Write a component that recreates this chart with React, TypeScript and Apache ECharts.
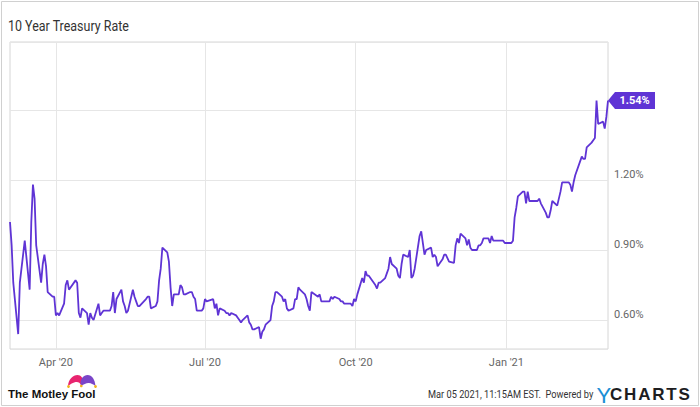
import React, { useEffect, useRef } from 'react';
import * as echarts from 'echarts';

const chartTitle = '10 Year Treasury Rate';

// [date, 10-year treasury rate in %]
const rate10y: [string, number][] = [
  ['2020-03-04', 1.02], ['2020-03-05', 0.92], ['2020-03-06', 0.76], ['2020-03-09', 0.54], ['2020-03-10', 0.76],
  ['2020-03-11', 0.82], ['2020-03-12', 0.88], ['2020-03-13', 0.94], ['2020-03-16', 0.73], ['2020-03-17', 1.02],
  ['2020-03-18', 1.18], ['2020-03-19', 1.12], ['2020-03-20', 0.92], ['2020-03-23', 0.76], ['2020-03-24', 0.84],
  ['2020-03-25', 0.88], ['2020-03-26', 0.83], ['2020-03-27', 0.72], ['2020-03-30', 0.70], ['2020-03-31', 0.70],
  ['2020-04-01', 0.62], ['2020-04-02', 0.63], ['2020-04-03', 0.62], ['2020-04-06', 0.67], ['2020-04-07', 0.75],
  ['2020-04-08', 0.77], ['2020-04-09', 0.73], ['2020-04-13', 0.77], ['2020-04-14', 0.76], ['2020-04-15', 0.63],
  ['2020-04-16', 0.61], ['2020-04-17', 0.65], ['2020-04-20', 0.63], ['2020-04-21', 0.58], ['2020-04-22', 0.63],
  ['2020-04-23', 0.61], ['2020-04-24', 0.60], ['2020-04-27', 0.67], ['2020-04-28', 0.62], ['2020-04-29', 0.63],
  ['2020-04-30', 0.64], ['2020-05-01', 0.64], ['2020-05-04', 0.64], ['2020-05-05', 0.66], ['2020-05-06', 0.72],
  ['2020-05-07', 0.63], ['2020-05-08', 0.69], ['2020-05-11', 0.73], ['2020-05-12', 0.68], ['2020-05-13', 0.66],
  ['2020-05-14', 0.63], ['2020-05-15', 0.64], ['2020-05-18', 0.73], ['2020-05-19', 0.70], ['2020-05-20', 0.68],
  ['2020-05-21', 0.66], ['2020-05-22', 0.66], ['2020-05-26', 0.69], ['2020-05-27', 0.70], ['2020-05-28', 0.70],
  ['2020-05-29', 0.65], ['2020-06-01', 0.66], ['2020-06-02', 0.68], ['2020-06-03', 0.77], ['2020-06-04', 0.82],
  ['2020-06-05', 0.91], ['2020-06-08', 0.89], ['2020-06-09', 0.85], ['2020-06-10', 0.74], ['2020-06-11', 0.66],
  ['2020-06-12', 0.71], ['2020-06-15', 0.71], ['2020-06-16', 0.75], ['2020-06-17', 0.74], ['2020-06-18', 0.71],
  ['2020-06-19', 0.71], ['2020-06-22', 0.72], ['2020-06-23', 0.72], ['2020-06-24', 0.70], ['2020-06-25', 0.69],
  ['2020-06-26', 0.64], ['2020-06-29', 0.64], ['2020-06-30', 0.65], ['2020-07-01', 0.69], ['2020-07-02', 0.68],
  ['2020-07-06', 0.69], ['2020-07-07', 0.65], ['2020-07-08', 0.67], ['2020-07-09', 0.62], ['2020-07-10', 0.65],
  ['2020-07-13', 0.64], ['2020-07-14', 0.63], ['2020-07-15', 0.63], ['2020-07-16', 0.62], ['2020-07-17', 0.63],
  ['2020-07-20', 0.62], ['2020-07-21', 0.61], ['2020-07-22', 0.60], ['2020-07-23', 0.59], ['2020-07-24', 0.60],
  ['2020-07-27', 0.62], ['2020-07-28', 0.59], ['2020-07-29', 0.58], ['2020-07-30', 0.56], ['2020-07-31', 0.56],
  ['2020-08-03', 0.57], ['2020-08-04', 0.52], ['2020-08-05', 0.55], ['2020-08-06', 0.56], ['2020-08-07', 0.58],
  ['2020-08-10', 0.60], ['2020-08-11', 0.66], ['2020-08-12', 0.68], ['2020-08-13', 0.72], ['2020-08-14', 0.72],
  ['2020-08-17', 0.70], ['2020-08-18', 0.68], ['2020-08-19', 0.69], ['2020-08-20', 0.65], ['2020-08-21', 0.64],
  ['2020-08-24', 0.65], ['2020-08-25', 0.69], ['2020-08-26', 0.69], ['2020-08-27', 0.74], ['2020-08-28', 0.73],
  ['2020-08-31', 0.71], ['2020-09-01', 0.69], ['2020-09-02', 0.66], ['2020-09-03', 0.64], ['2020-09-04', 0.72],
  ['2020-09-08', 0.70], ['2020-09-09', 0.71], ['2020-09-10', 0.68], ['2020-09-11', 0.68], ['2020-09-14', 0.68],
  ['2020-09-15', 0.68], ['2020-09-16', 0.70], ['2020-09-17', 0.69], ['2020-09-18', 0.70], ['2020-09-21', 0.69],
  ['2020-09-22', 0.68], ['2020-09-23', 0.68], ['2020-09-24', 0.67], ['2020-09-25', 0.67], ['2020-09-28', 0.67],
  ['2020-09-29', 0.66], ['2020-09-30', 0.69], ['2020-10-01', 0.68], ['2020-10-02', 0.71], ['2020-10-05', 0.78],
  ['2020-10-06', 0.76], ['2020-10-07', 0.81], ['2020-10-08', 0.79], ['2020-10-09', 0.79], ['2020-10-13', 0.75],
  ['2020-10-14', 0.735], ['2020-10-15', 0.76], ['2020-10-16', 0.76], ['2020-10-19', 0.78], ['2020-10-20', 0.80],
  ['2020-10-21', 0.82], ['2020-10-22', 0.87], ['2020-10-23', 0.84], ['2020-10-26', 0.82], ['2020-10-27', 0.79],
  ['2020-10-28', 0.78], ['2020-10-29', 0.84], ['2020-10-30', 0.88], ['2020-11-02', 0.87], ['2020-11-03', 0.90],
  ['2020-11-04', 0.78], ['2020-11-05', 0.79], ['2020-11-06', 0.82], ['2020-11-09', 0.96], ['2020-11-10', 0.98],
  ['2020-11-12', 0.88], ['2020-11-13', 0.90], ['2020-11-16', 0.91], ['2020-11-17', 0.87], ['2020-11-18', 0.88],
  ['2020-11-19', 0.87], ['2020-11-20', 0.83], ['2020-11-23', 0.86], ['2020-11-24', 0.88], ['2020-11-25', 0.88],
  ['2020-11-27', 0.85], ['2020-11-30', 0.845], ['2020-12-01', 0.92], ['2020-12-02', 0.95], ['2020-12-03', 0.93],
  ['2020-12-04', 0.97], ['2020-12-07', 0.95], ['2020-12-08', 0.92], ['2020-12-09', 0.945], ['2020-12-10', 0.91],
  ['2020-12-11', 0.90], ['2020-12-14', 0.90], ['2020-12-15', 0.92], ['2020-12-16', 0.92], ['2020-12-17', 0.93],
  ['2020-12-18', 0.95], ['2020-12-21', 0.95], ['2020-12-22', 0.93], ['2020-12-23', 0.96], ['2020-12-24', 0.94],
  ['2020-12-28', 0.94], ['2020-12-29', 0.94], ['2020-12-30', 0.94], ['2020-12-31', 0.93], ['2021-01-04', 0.93],
  ['2021-01-05', 0.94], ['2021-01-06', 1.04], ['2021-01-07', 1.08], ['2021-01-08', 1.13], ['2021-01-11', 1.15],
  ['2021-01-12', 1.15], ['2021-01-13', 1.10], ['2021-01-14', 1.15], ['2021-01-15', 1.11], ['2021-01-19', 1.11],
  ['2021-01-20', 1.11], ['2021-01-21', 1.12], ['2021-01-22', 1.10], ['2021-01-25', 1.06], ['2021-01-26', 1.04],
  ['2021-01-27', 1.04], ['2021-01-28', 1.07], ['2021-01-29', 1.11], ['2021-02-01', 1.09], ['2021-02-02', 1.12],
  ['2021-02-03', 1.15], ['2021-02-04', 1.19], ['2021-02-05', 1.19], ['2021-02-08', 1.19], ['2021-02-09', 1.18],
  ['2021-02-10', 1.15], ['2021-02-11', 1.19], ['2021-02-12', 1.22], ['2021-02-16', 1.30], ['2021-02-17', 1.29],
  ['2021-02-18', 1.29], ['2021-02-19', 1.34], ['2021-02-22', 1.36], ['2021-02-23', 1.37], ['2021-02-24', 1.38],
  ['2021-02-25', 1.54], ['2021-02-26', 1.44], ['2021-03-01', 1.45], ['2021-03-02', 1.42], ['2021-03-03', 1.47],
  ['2021-03-04', 1.54],
];

const xMin = '2020-03-04';
const xMax = '2021-03-04';
const xTickDates = ['2020-04-01', '2020-07-01', '2020-10-01', '2021-01-01'];
const monthNames = ['Jan', 'Feb', 'Mar', 'Apr', 'May', 'Jun', 'Jul', 'Aug', 'Sep', 'Oct', 'Nov', 'Dec'];

const yMin = 0.476;
const yMax = 1.791;
const yStep = 0.3;
const yLabelledTicks = [0.6, 0.9, 1.2];

const footerStamp = 'Mar 05 2021, 11:15AM EST.  Powered by';
const brandLeft = 'The Motley Fool';
const brandRightFirst = 'Y';
const brandRightRest = ['C', 'H', 'A', 'R', 'T', 'S'];

const LINE_COLOR = '#5f34d5';

const toTs = (s: string) => {
  const [y, m, d] = s.split('-').map(Number);
  return new Date(y, m - 1, d).getTime();
};

echarts.graphic.registerShape(
  'foolPink',
  echarts.graphic.extendPath('M0,11 C0.5,4 5,0 9.5,0 C13,0 15.5,3 15.5,8 L13,10 C12,7.5 10,6.5 7.5,7 C4.8,7.6 2.5,9.3 0,11 Z', {})
);
echarts.graphic.registerShape(
  'foolPurple',
  echarts.graphic.extendPath('M12.5,9 C12.5,3.5 15.5,0 19.5,0 C24,0 27,4.5 27.5,11 C25,9.3 22.8,7.8 20.5,8 C18,8.2 15.5,9.5 13.5,10.8 Z', {})
);

const letterW: Record<string, number> = { C: 0.722, H: 0.722, A: 0.722, R: 0.722, T: 0.611, S: 0.667 };

function buildOption() {
  const seriesData = rate10y.map(([d, v]) => [toTs(d), v]);
  const last = seriesData[seriesData.length - 1];
  const xTicks = xTickDates.map(toTs);

  const chartsLetters: any[] = [];
  let cx = 610;
  brandRightRest.forEach((ch) => {
    chartsLetters.push({
      type: 'text',
      x: cx,
      y: 394,
      style: {
        text: ch,
        font: 'bold 17px "Liberation Sans", Arial, sans-serif',
        fill: '#1d1d1f',
        textAlign: 'left',
        textVerticalAlign: 'middle',
      },
    });
    cx += letterW[ch] * 17 + 1.8;
  });

  return {
    animation: false,
    backgroundColor: '#ffffff',
    grid: {
      left: 10,
      right: 92,
      top: 42,
      bottom: 58,
      show: true,
      borderColor: '#d6d6d6',
      borderWidth: 1,
      containLabel: false,
      outerBoundsMode: 'none',
    },
    xAxis: {
      type: 'value',
      min: toTs(xMin),
      max: toTs(xMax),
      axisLine: { show: false },
      axisTick: { show: false, customValues: xTicks },
      splitLine: { show: true, lineStyle: { color: '#e6e6e6', width: 1 } },
      axisLabel: {
        customValues: xTicks,
        color: '#666666',
        fontSize: 11,
        fontFamily: 'Roboto',
        margin: 8,
        formatter: (v: number) => {
          const d = new Date(v);
          return `${monthNames[d.getMonth()]} '${String(d.getFullYear()).slice(2)}`;
        },
      },
    },
    yAxis: {
      type: 'value',
      position: 'right',
      min: yMin,
      max: yMax,
      minInterval: yStep,
      maxInterval: yStep,
      axisLine: { show: false },
      axisTick: { show: false },
      splitLine: { show: true, lineStyle: { color: '#e6e6e6', width: 1 } },
      axisLabel: {
        color: '#666666',
        fontSize: 11,
        fontFamily: 'Roboto',
        margin: 6,
        verticalAlign: 'bottom',
        formatter: (v: number) =>
          yLabelledTicks.some((t) => Math.abs(t - v) < 1e-6) ? `${v.toFixed(2)}%` : '',
      },
    },
    series: [
      {
        type: 'line',
        data: seriesData,
        showSymbol: false,
        symbol: 'none',
        lineStyle: { color: LINE_COLOR, width: 1.8 },
        itemStyle: { color: LINE_COLOR },
        markPoint: {
          symbol: 'path://M0,8.5 L7,0 L47,0 L47,17 L7,17 Z',
          symbolSize: [47, 17],
          symbolOffset: ['50%', 0],
          silent: true,
          itemStyle: { color: LINE_COLOR },
          label: {
            show: true,
            position: 'inside',
            offset: [3, 0],
            color: '#ffffff',
            fontWeight: 'bold',
            fontSize: 11,
            fontFamily: 'Roboto',
            formatter: (p: any) => `${Number(p.value).toFixed(2)}%`,
          },
          data: [{ coord: [last[0], last[1]], value: last[1] }],
        },
      },
    ],
    graphic: [
      {
        type: 'rect',
        silent: true,
        z: -10,
        shape: { x: 1.5, y: 1.5, width: 697, height: 404 },
        style: { fill: 'none', stroke: '#d0d0d0', lineWidth: 1 },
      },
      {
        type: 'text',
        x: 8,
        y: 26,
        scaleX: 0.89,
        style: {
          text: chartTitle,
          font: '14px Roboto, sans-serif',
          fill: '#333333',
          textAlign: 'left',
          textVerticalAlign: 'middle',
        },
      },
      {
        type: 'text',
        x: 428,
        y: 394,
        scaleX: 0.84,
        style: {
          text: footerStamp,
          font: '11px Roboto, sans-serif',
          fill: '#333333',
          textAlign: 'left',
          textVerticalAlign: 'middle',
        },
      },
      {
        type: 'text',
        x: 8,
        y: 394,
        style: {
          text: brandLeft,
          font: 'bold 11.5px "Liberation Sans", Arial, sans-serif',
          fill: '#111111',
          textAlign: 'left',
          textVerticalAlign: 'middle',
        },
      },
      {
        type: 'group',
        x: 68,
        y: 375,
        children: [
          { type: 'foolPink', style: { fill: '#e8246f' } },
          { type: 'foolPurple', style: { fill: '#7a45c8' } },
          { type: 'circle', shape: { cx: 0.5, cy: 11.5, r: 1.4 }, style: { fill: '#f2b31c' } },
          { type: 'circle', shape: { cx: 27.5, cy: 11.5, r: 1.4 }, style: { fill: '#f2b31c' } },
          { type: 'circle', shape: { cx: 13.3, cy: 11, r: 1.3 }, style: { fill: '#f2b31c' } },
        ],
      },
      {
        type: 'text',
        x: 597,
        y: 394,
        style: {
          text: brandRightFirst,
          font: '22px Lato, "Open Sans", sans-serif',
          fill: '#1b8fd6',
          textAlign: 'left',
          textVerticalAlign: 'middle',
        },
      },
      ...chartsLetters,
    ],
  };
}

export default function App() {
  const ref = useRef<HTMLDivElement>(null);
  useEffect(() => {
    document.body.style.margin = '0';
    if (!ref.current) return;
    const chart = echarts.init(ref.current, null, { renderer: 'svg' });
    chart.setOption(buildOption() as any);
    return () => {
      chart.dispose();
    };
  }, []);
  return <div ref={ref} style={{ width: 700, height: 407 }} />;
}
